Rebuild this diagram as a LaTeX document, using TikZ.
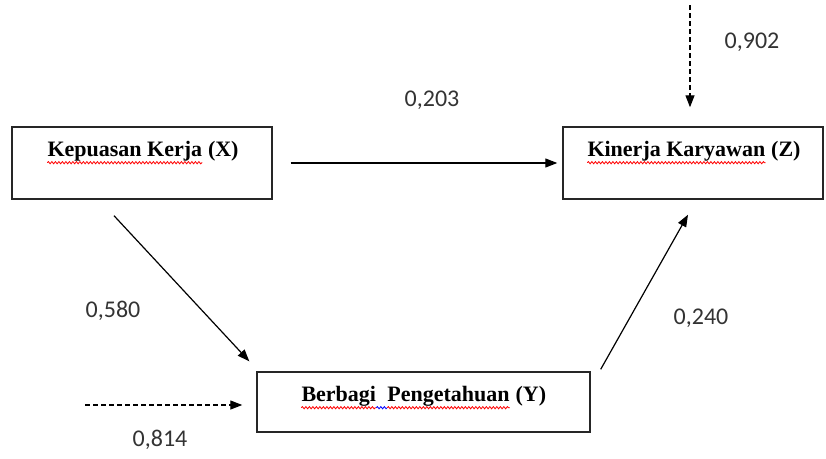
\documentclass[tikz,border=0pt]{standalone}
\usepackage{fontspec}
\setmainfont{Liberation Serif}
\newfontfamily\labelfont{Carlito}
\usetikzlibrary{arrows.meta}
\usetikzlibrary{positioning}
\usetikzlibrary{decorations.pathmorphing}

\begin{document}
\begin{tikzpicture}[x=1pt, y=-1pt,
  varbox/.style={draw, line width=1.4pt, inner sep=0pt, color=black!85},
  vartext/.style={font=\fontsize{22}{26}\selectfont\bfseries, inner sep=0pt,
    text height=15pt, text depth=5pt},
  coef/.style={font=\labelfont\fontsize{24}{28}\selectfont, color=black!80},
  path/.style={line width=1.2pt, -{Triangle[length=12pt,width=9pt]}},
  err/.style={path, dash pattern=on 5pt off 3pt},
  wave/.style={line width=0.8pt, decorate,
    decoration={snake, amplitude=1.1pt, segment length=3.5pt}}]

\path[use as bounding box] (0,0) rectangle (826,458);

% the three variables
\node[varbox, minimum width=260pt, minimum height=72pt] (kx) at (142,163) {};
\node[varbox, minimum width=260pt, minimum height=72pt] (kz) at (693,163) {};
\node[varbox, minimum width=333pt, minimum height=60pt] (ky) at (423.5,402) {};

\node[vartext, anchor=north west] (tx) at ([xshift=36pt,yshift=-15pt]kx.north west) {Kepuasan Kerja};
\node[vartext, right=0pt of tx] (tx2) {\ (X)};
\node[vartext, anchor=north west] (tz) at ([xshift=25pt,yshift=-15pt]kz.north west) {Kinerja Karyawan};
\node[vartext, right=0pt of tz] (tz2) {\ (Z)};
\node[vartext, anchor=north west] (ty) at ([xshift=45pt,yshift=-15pt]ky.north west) {Berbagi};
\node[vartext, right=11pt of ty] (ty2) {Pengetahuan};
\node[vartext, right=0pt of ty2] (ty3) {\ (Y)};

% spell-check marks
\draw[wave, red] ([yshift=-1pt]tx.south west) -- ([yshift=-1pt]tx.south east);
\draw[wave, red] ([yshift=-1pt]tz.south west) -- ([yshift=-1pt]tz.south east);
\draw[wave, red] ([yshift=-1pt]ty.south west) -- ([yshift=-1pt]ty.south east);
\draw[wave, blue] ([yshift=-1pt]ty.south east) -- ([yshift=-1pt]ty2.south west);
\draw[wave, red] ([yshift=-1pt]ty2.south west) -- ([yshift=-1pt]ty2.south east);

% paths
\coordinate (ez) at (690,5);
\coordinate (ey) at (85,405);

\draw[path] ([xshift=18pt]kx.east) -- ([xshift=-5pt]kz.west);
\draw[path] ([xshift=-28pt,yshift=-16pt]kx.south) -- ([xshift=-7pt,yshift=10pt]ky.north west);
\draw[path] ([xshift=10pt,yshift=2pt]ky.north east) -- ([xshift=-5pt,yshift=-15pt]kz.south);
\draw[err] (ez) -- ([xshift=-3pt,yshift=19pt]kz.north);
\draw[err] (ey) -- ([xshift=-14pt,yshift=-3pt]ky.west);

\node[coef] (c203) at (432,100) {0,203};
\node[coef] (c902) at (752,42) {0,902};
\node[coef] (c580) at (113,311) {0,580};
\node[coef] (c240) at (701,318) {0,240};
\node[coef] (c814) at (160,440) {0,814};
\end{tikzpicture}
\end{document}
